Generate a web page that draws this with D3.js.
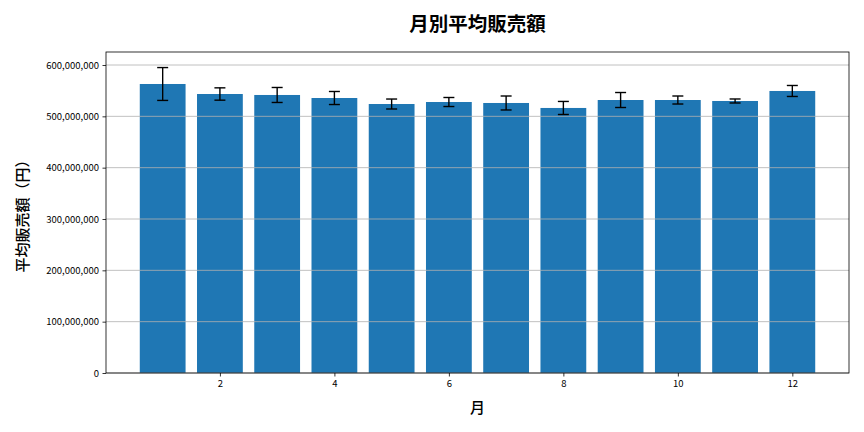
<!DOCTYPE html>
<html>
<head>
<meta charset="utf-8">
<script src="https://cdn.jsdelivr.net/npm/d3@7"></script>
<style>
  body { margin: 0; background: #fff; }
  text { font-family: "Noto Sans CJK JP", "Noto Sans", sans-serif; }
</style>
</head>
<body>
<div id="chart"></div>
<script>
(function(d3) {
  // monthly data
  var months = [1, 2, 3, 4, 5, 6, 7, 8, 9, 10, 11, 12];
  var means = [563, 543.5, 541.6, 535.7, 524, 527.9, 526, 516.3, 531.8, 531.8, 529.9, 549.4];
  var errs = [32, 12, 14.6, 12.7, 9.7, 8.8, 13.6, 12.7, 14.6, 7.8, 3.9, 10.7];
  var xTicks = [2, 4, 6, 8, 10, 12];
  var yTicks = [0, 100, 200, 300, 400, 500, 600];

  var W = 864, H = 432;
  var left = 106, right = 849, top = 52, bottom = 373;

  var svg = d3.select("#chart").append("svg")
    .attr("width", W).attr("height", H);

  var x = d3.scaleLinear().domain([0.01, 12.99]).range([left, right]);
  var y = d3.scaleLinear().domain([0, 600]).range([bottom, 65]);

  // bars
  svg.selectAll("rect.bar")
    .data(months)
    .enter().append("rect")
    .attr("class", "bar")
    .attr("x", function(d) { return x(d - 0.4); })
    .attr("width", function(d) { return x(d + 0.4) - x(d - 0.4); })
    .attr("y", function(d, i) { return y(means[i]); })
    .attr("height", function(d, i) { return bottom - y(means[i]); })
    .attr("fill", "#1f77b4");

  // grid over bars
  svg.selectAll("line.grid")
    .data(yTicks)
    .enter().append("line")
    .attr("x1", left).attr("x2", right)
    .attr("y1", function(d) { return y(d); })
    .attr("y2", function(d) { return y(d); })
    .attr("stroke", "#b0b0b0").attr("stroke-width", 0.8);

  // error bars
  var eb = svg.selectAll("g.err")
    .data(months)
    .enter().append("g")
    .attr("stroke", "#000").attr("stroke-width", 1.4);
  eb.append("line")
    .attr("x1", function(d) { return x(d); }).attr("x2", function(d) { return x(d); })
    .attr("y1", function(d, i) { return y(means[i] - errs[i]); })
    .attr("y2", function(d, i) { return y(means[i] + errs[i]); });
  eb.append("line")
    .attr("x1", function(d) { return x(d) - 5.5; }).attr("x2", function(d) { return x(d) + 5.5; })
    .attr("y1", function(d, i) { return y(means[i] + errs[i]); })
    .attr("y2", function(d, i) { return y(means[i] + errs[i]); });
  eb.append("line")
    .attr("x1", function(d) { return x(d) - 5.5; }).attr("x2", function(d) { return x(d) + 5.5; })
    .attr("y1", function(d, i) { return y(means[i] - errs[i]); })
    .attr("y2", function(d, i) { return y(means[i] - errs[i]); });

  // axes
  var fmt = d3.format(",");
  var xAxis = d3.axisBottom(x).tickValues(xTicks).tickSize(3.5).tickPadding(3.5);
  var yAxis = d3.axisLeft(y).tickValues(yTicks).tickSize(3.5).tickPadding(3.5)
    .tickFormat(function(d) { return fmt(d * 1000000); });

  svg.append("g").attr("transform", "translate(0," + bottom + ")").call(xAxis)
    .call(function(g) { g.select(".domain").remove(); });
  svg.append("g").attr("transform", "translate(" + left + ",0)").call(yAxis)
    .call(function(g) { g.select(".domain").remove(); });

  svg.selectAll(".tick text")
    .attr("font-size", "9.5px").attr("fill", "#000")
    .style("font-family", '"Noto Sans CJK JP", sans-serif');
  svg.selectAll(".tick line").attr("stroke", "#000").attr("stroke-width", 0.8);

  // frame
  svg.append("rect")
    .attr("x", left).attr("y", top)
    .attr("width", right - left).attr("height", bottom - top)
    .attr("fill", "none").attr("stroke", "#000").attr("stroke-width", 0.8);

  // labels
  svg.append("text")
    .attr("x", (left + right) / 2).attr("y", 31)
    .attr("text-anchor", "middle")
    .attr("font-size", "19.5px").attr("font-weight", "bold")
    .text("月別平均販売額");

  svg.append("text")
    .attr("x", (left + right) / 2).attr("y", 413)
    .attr("text-anchor", "middle")
    .attr("font-size", "15px").attr("font-weight", 500)
    .text("月");

  svg.append("text")
    .attr("transform", "translate(28," + (top + bottom) / 2 + ") rotate(-90)")
    .attr("text-anchor", "middle")
    .attr("font-size", "15px").attr("font-weight", 500)
    .text("平均販売額（円）");
})(window.d3);
</script>
</body>
</html>
